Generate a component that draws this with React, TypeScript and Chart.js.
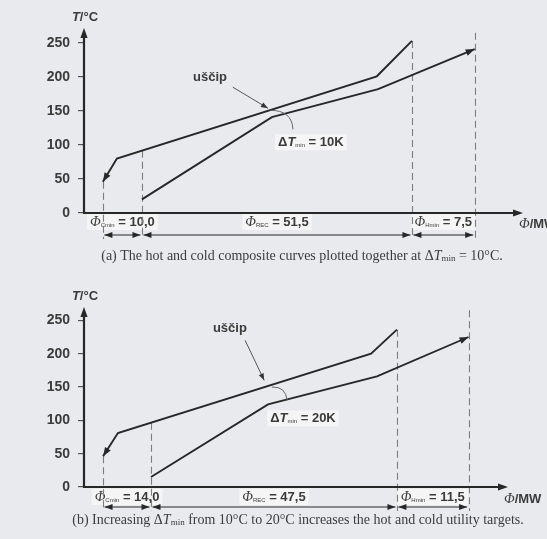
import React, { useEffect, useRef } from 'react';
import { Chart, registerables } from 'chart.js';

Chart.register(...registerables);

// Hot and cold composite curves at ΔTmin = 10 K (Φ along the drawn axis, T in °C)
const hotPhiA = [4.3, 7.5, 66.7, 74.7];
const hotTA = [46, 80, 201, 253];
const coldPhiA = [13.2, 42.8, 67.0, 89.0];
const coldTA = [20, 141, 182, 241];
const dutiesA = ['10,0', '51,5', '7,5'];
const dTminA = 10;

// Hot and cold composite curves at ΔTmin = 20 K
const hotPhiB = [4.5, 8.0, 67.7, 73.8];
const hotTB = [46, 81, 200, 236];
const coldPhiB = [15.8, 43.4, 69.1, 90.7];
const coldTB = [15, 124, 166, 225];
const dutiesB = ['14,0', '47,5', '11,5'];
const dTminB = 20;

const dutyNames = ['Cmin', 'REC', 'Hmin'];
const tempTicks = [0, 50, 100, 150, 200, 250];

const INK = '#272727';
const TEXT = '#3b3b3b';
const DASH = '#7d7d7d';
const PAPER = '#e9eaed';
const BOX = '#f5f5f6';
const SANS = '"Liberation Sans", Arial, sans-serif';
const SERIF = '"Liberation Serif", "Times New Roman", serif';

type Seg = { t: string; f: string; dy?: number };

type Panel = {
  hotPhi: number[];
  hotT: number[];
  coldPhi: number[];
  coldT: number[];
  duties: string[];
  dTmin: number;
  height: number;
  tMax: number;
  padTop: number;
  padBottom: number;
  padRight: number;
  labelRow: number;
  dimRow: number;
  captionRow: number;
  captionX: number;
  caption: Seg[];
  dashTopT: number;
  pinchText: number[];
  pinchArrow: number[];
  dTLabel: number[];
  bracket: number[];
};

function richWidth(ctx: CanvasRenderingContext2D, segs: Seg[]) {
  let w = 0;
  for (const s of segs) {
    ctx.font = s.f;
    w += ctx.measureText(s.t).width;
  }
  return w;
}

function drawRich(
  ctx: CanvasRenderingContext2D,
  segs: Seg[],
  x: number,
  y: number,
  align: 'left' | 'center',
  box?: string
) {
  const w = richWidth(ctx, segs);
  let sx = align === 'center' ? x - w / 2 : x;
  if (box) {
    ctx.fillStyle = box;
    ctx.fillRect(sx - 3, y - 8, w + 6, 16);
  }
  ctx.textBaseline = 'middle';
  ctx.textAlign = 'left';
  ctx.fillStyle = TEXT;
  for (const s of segs) {
    ctx.font = s.f;
    ctx.fillText(s.t, sx, y + (s.dy || 0));
    sx += ctx.measureText(s.t).width;
  }
}

function arrowHead(
  ctx: CanvasRenderingContext2D,
  tipX: number,
  tipY: number,
  fromX: number,
  fromY: number,
  len = 8,
  half = 3.2
) {
  const a = Math.atan2(tipY - fromY, tipX - fromX);
  const c = Math.cos(a);
  const s = Math.sin(a);
  ctx.beginPath();
  ctx.moveTo(tipX, tipY);
  ctx.lineTo(tipX - len * c + half * s, tipY - len * s - half * c);
  ctx.lineTo(tipX - len * c - half * s, tipY - len * s + half * c);
  ctx.closePath();
  ctx.fill();
}

function interp(xs: number[], ys: number[], x: number) {
  for (let i = 0; i < xs.length - 1; i++) {
    if (x >= xs[i] && x <= xs[i + 1]) {
      const f = (x - xs[i]) / (xs[i + 1] - xs[i]);
      return ys[i] + f * (ys[i + 1] - ys[i]);
    }
  }
  return ys[ys.length - 1];
}

function makeFigurePlugin(p: Panel) {
  const boundaries = () => [
    p.hotPhi[0],
    p.coldPhi[0],
    p.hotPhi[p.hotPhi.length - 1],
    p.coldPhi[p.coldPhi.length - 1],
  ];
  return {
    id: 'figure',
    beforeDatasetsDraw(chart: any) {
      const { ctx, chartArea: ca, scales } = chart;
      const xs = scales.x;
      const ys = scales.y;
      const b = boundaries();
      ctx.save();

      // utility / recovery labels under the Φ axis
      for (let i = 0; i < 3; i++) {
        const cx = (xs.getPixelForValue(b[i]) + xs.getPixelForValue(b[i + 1])) / 2;
        drawRich(
          ctx,
          [
            { t: 'Φ', f: `italic 14px ${SERIF}` },
            { t: dutyNames[i], f: `6px ${SANS}`, dy: 3 },
            { t: ' = ' + p.duties[i], f: `bold 13px ${SANS}` },
          ],
          cx,
          ca.bottom + p.labelRow,
          'center',
          BOX
        );
      }

      // dashed boundaries of the utility intervals
      const tops = [
        p.hotT[0],
        interp(p.hotPhi, p.hotT, p.coldPhi[0]),
        p.hotT[p.hotT.length - 1],
        p.dashTopT,
      ];
      ctx.strokeStyle = DASH;
      ctx.lineWidth = 1.1;
      ctx.setLineDash([7, 4]);
      for (let i = 0; i < 4; i++) {
        const px = Math.round(xs.getPixelForValue(b[i])) + 0.5;
        ctx.beginPath();
        ctx.moveTo(px, ys.getPixelForValue(tops[i]));
        ctx.lineTo(px, ca.bottom + p.dimRow + 4);
        ctx.stroke();
      }
      ctx.setLineDash([]);

      // dimension arrows
      ctx.strokeStyle = INK;
      ctx.fillStyle = INK;
      ctx.lineWidth = 1.2;
      const ry = ca.bottom + p.dimRow;
      for (let i = 0; i < 3; i++) {
        const x1 = xs.getPixelForValue(b[i]) + 1.5;
        const x2 = xs.getPixelForValue(b[i + 1]) - 1.5;
        ctx.beginPath();
        ctx.moveTo(x1, ry);
        ctx.lineTo(x2, ry);
        ctx.stroke();
        arrowHead(ctx, x1, ry, x2, ry, 8, 3);
        arrowHead(ctx, x2, ry, x1, ry, 8, 3);
      }
      ctx.restore();
    },
    afterDatasetsDraw(chart: any) {
      const { ctx, chartArea: ca, scales } = chart;
      const xs = scales.x;
      const ys = scales.y;
      const X = (v: number) => xs.getPixelForValue(v);
      const Y = (v: number) => ys.getPixelForValue(v);
      ctx.save();
      ctx.strokeStyle = INK;
      ctx.fillStyle = INK;

      // axes with arrows
      ctx.lineWidth = 2.2;
      ctx.beginPath();
      ctx.moveTo(ca.left, ca.bottom + 1);
      ctx.lineTo(ca.left, ca.top + 6);
      ctx.stroke();
      arrowHead(ctx, ca.left, ca.top, ca.left, ca.bottom, 10, 3.6);
      ctx.beginPath();
      ctx.moveTo(ca.left - 1, ca.bottom);
      ctx.lineTo(ca.right - 6, ca.bottom);
      ctx.stroke();
      arrowHead(ctx, ca.right, ca.bottom, ca.left, ca.bottom, 10, 3.6);

      // stream direction arrows on the composite curves
      arrowHead(ctx, X(p.hotPhi[0]), Y(p.hotT[0]), X(p.hotPhi[1]), Y(p.hotT[1]), 9, 3.4);
      const cn = p.coldPhi.length;
      arrowHead(
        ctx,
        X(p.coldPhi[cn - 1]),
        Y(p.coldT[cn - 1]),
        X(p.coldPhi[cn - 2]),
        Y(p.coldT[cn - 2]),
        9,
        3.4
      );

      // axis titles
      drawRich(
        ctx,
        [
          { t: 'T', f: `italic bold 13px ${SANS}` },
          { t: '/°C', f: `bold 13px ${SANS}` },
        ],
        ca.left + 1,
        ca.top - 11,
        'center'
      );
      drawRich(
        ctx,
        [
          { t: 'Φ', f: `italic 14px ${SERIF}` },
          { t: '/MW', f: `bold 13px ${SANS}` },
        ],
        ca.right - 4,
        ca.bottom + p.labelRow + 2,
        'left'
      );

      // pinch annotation
      drawRich(
        ctx,
        [{ t: 'uščip', f: `bold 13px ${SANS}` }],
        X(p.pinchText[0]),
        Y(p.pinchText[1]),
        'center'
      );
      ctx.strokeStyle = '#555';
      ctx.fillStyle = '#333';
      ctx.lineWidth = 1;
      const [ax1, at1, ax2, at2] = p.pinchArrow;
      ctx.beginPath();
      ctx.moveTo(X(ax1), Y(at1));
      ctx.lineTo(X(ax2), Y(at2));
      ctx.stroke();
      arrowHead(ctx, X(ax2), Y(at2), X(ax1), Y(at1), 7, 2.6);

      // ΔTmin bracket and label
      const [bx1, bt1, bcx, bct, bx2, bt2] = p.bracket;
      ctx.strokeStyle = '#666';
      ctx.lineWidth = 1;
      ctx.beginPath();
      ctx.moveTo(X(bx1), Y(bt1));
      ctx.quadraticCurveTo(X(bcx), Y(bct), X(bx2), Y(bt2));
      ctx.stroke();
      drawRich(
        ctx,
        [
          { t: 'Δ', f: `bold 13px ${SANS}` },
          { t: 'T', f: `italic bold 13px ${SANS}` },
          { t: 'min', f: `6px ${SANS}`, dy: 3 },
          { t: ` = ${p.dTmin}K`, f: `bold 13px ${SANS}` },
        ],
        X(p.dTLabel[0]),
        Y(p.dTLabel[1]),
        'left',
        BOX
      );

      // caption
      drawRich(ctx, p.caption, p.captionX, ca.bottom + p.captionRow, 'center');
      ctx.restore();
    },
  };
}

function makeConfig(p: Panel): any {
  const line = (xs: number[], ts: number[], label: string) => ({
    label,
    data: xs.map((x, i) => ({ x, y: ts[i] })),
    borderColor: INK,
    borderWidth: 1.9,
    pointRadius: 0,
    tension: 0,
    fill: false,
  });
  return {
    type: 'line',
    data: {
      datasets: [line(p.hotPhi, p.hotT, 'hot'), line(p.coldPhi, p.coldT, 'cold')],
    },
    options: {
      responsive: false,
      animation: false,
      events: [],
      layout: {
        padding: { left: 0, right: p.padRight, top: p.padTop, bottom: p.padBottom },
      },
      plugins: { legend: { display: false }, tooltip: { enabled: false } },
      scales: {
        x: { type: 'linear', min: 0, max: 100, display: false },
        y: {
          type: 'linear',
          min: 0,
          max: p.tMax,
          afterFit: (s: any) => {
            s.width = 84;
          },
          afterBuildTicks: (s: any) => {
            s.ticks = tempTicks.map((v) => ({ value: v }));
          },
          ticks: {
            color: TEXT,
            padding: 8,
            font: { family: SANS, size: 14, weight: 'bold' },
          },
          grid: {
            drawOnChartArea: false,
            drawTicks: true,
            tickLength: 6,
            color: '#555',
            lineWidth: 1.2,
          },
          border: { display: false },
        },
      },
    },
    plugins: [makeFigurePlugin(p)],
  };
}

const CAP = `14px ${SERIF}`;
const CAP_IT = `italic 14px ${SERIF}`;
const CAP_SUB = `9px ${SERIF}`;

const panelA: Panel = {
  hotPhi: hotPhiA,
  hotT: hotTA,
  coldPhi: coldPhiA,
  coldT: coldTA,
  duties: dutiesA,
  dTmin: dTminA,
  height: 270,
  tMax: 272,
  padTop: 28,
  padBottom: 57,
  padRight: 24,
  labelRow: 9,
  dimRow: 22,
  captionRow: 43,
  captionX: 302,
  caption: [
    { t: '(a) The hot and cold composite curves plotted together at ', f: CAP },
    { t: 'Δ', f: CAP },
    { t: 'T', f: CAP_IT },
    { t: 'min', f: CAP_SUB, dy: 3 },
    { t: ' = 10°C.', f: CAP },
  ],
  dashTopT: 265,
  pinchText: [28.7, 200],
  pinchArrow: [33.9, 185, 41.9, 154],
  dTLabel: [44.2, 104],
  bracket: [42.4, 151, 47.4, 151, 47.6, 123],
};

const panelB: Panel = {
  hotPhi: hotPhiB,
  hotT: hotTB,
  coldPhi: coldPhiB,
  coldT: coldTB,
  duties: dutiesB,
  dTmin: dTminB,
  height: 269,
  tMax: 270,
  padTop: 37,
  padBottom: 52,
  padRight: 39,
  labelRow: 10,
  dimRow: 20,
  captionRow: 33,
  captionX: 298,
  caption: [
    { t: '(b) Increasing ', f: CAP },
    { t: 'Δ', f: CAP },
    { t: 'T', f: CAP_IT },
    { t: 'min', f: CAP_SUB, dy: 3 },
    { t: ' from 10°C to 20°C increases the hot and cold utility targets.', f: CAP },
  ],
  dashTopT: 265,
  pinchText: [34.4, 238],
  pinchArrow: [38.0, 220, 42.5, 160],
  dTLabel: [43.9, 103],
  bracket: [44.3, 150, 47.6, 151, 47.9, 130],
};

function CompositePanel({ panel }: { panel: Panel }) {
  const ref = useRef<HTMLCanvasElement | null>(null);
  useEffect(() => {
    if (!ref.current) return;
    const chart = new Chart(ref.current, makeConfig(panel));
    return () => chart.destroy();
  }, [panel]);
  return (
    <canvas
      ref={ref}
      width={547}
      height={panel.height}
      style={{ display: 'block', width: 547, height: panel.height }}
    />
  );
}

export default function App() {
  useEffect(() => {
    document.body.style.margin = '0';
    document.body.style.background = PAPER;
  }, []);
  return (
    <div style={{ width: 547, height: 539, background: PAPER, overflow: 'hidden' }}>
      <CompositePanel panel={panelA} />
      <CompositePanel panel={panelB} />
    </div>
  );
}
